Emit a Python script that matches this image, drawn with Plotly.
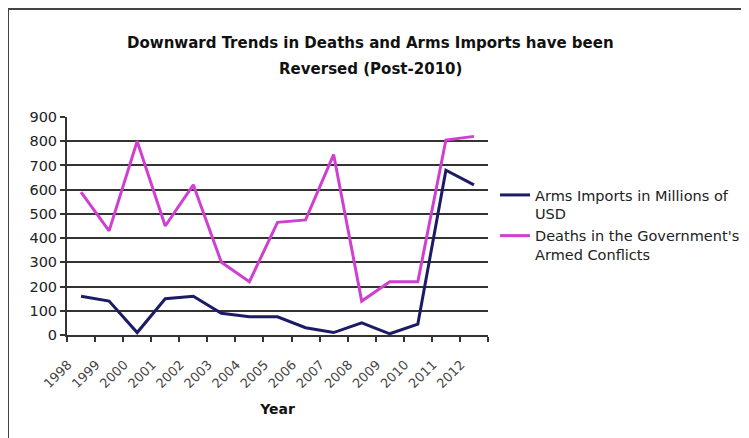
import plotly.graph_objects as go

years = ["1998", "1999", "2000", "2001", "2002", "2003", "2004", "2005",
         "2006", "2007", "2008", "2009", "2010", "2011", "2012"]
arms_imports = [160, 140, 10, 150, 160, 90, 75, 75, 30, 10, 50, 5, 45, 680, 620]
deaths = [590, 430, 800, 450, 620, 300, 220, 465, 475, 745, 140, 220, 220, 805, 820]
y_ticks = [0, 100, 200, 300, 400, 500, 600, 700, 800, 900]
grid_vals = [100, 200, 300, 400, 500, 600, 700, 800]
title_lines = ["Downward Trends in Deaths and Arms Imports have been",
               "Reversed (Post-2010)"]

FONT = "DejaVu Sans"
TFONT = "DejaVu Sans Condensed"

W, H = 749, 438
# the page body has an 8px margin; target pixel positions are offset by it
OFF = 8
L, R, T, B = 67 - OFF, 488 - OFF, 117 - OFF, 335 - OFF
PW, PH = R - L, B - T


def px_x(x):
    return (x - OFF - L) / PW


def px_y(y):
    return (B - (y - OFF)) / PH


fig = go.Figure()
fig.add_trace(go.Scatter(
    x=years, y=arms_imports, mode="lines",
    name="Arms Imports in Millions of<br>USD",
    line=dict(color="#1c1c66", width=3),
))
fig.add_trace(go.Scatter(
    x=years, y=deaths, mode="lines",
    name="Deaths in the Government's<br>Armed Conflicts",
    line=dict(color="#d040d0", width=3),
))

annotations = [
    dict(text="<b>%s</b>" % title_lines[0], xref="paper", yref="paper",
         x=px_x(370), y=px_y(42), xanchor="center", yanchor="middle",
         showarrow=False, font=dict(family=TFONT, size=16.7, color="#111111")),
    dict(text="<b>%s</b>" % title_lines[1], xref="paper", yref="paper",
         x=px_x(370), y=px_y(68), xanchor="center", yanchor="middle",
         showarrow=False, font=dict(family=TFONT, size=16.7, color="#111111")),
]

fig.update_layout(
    width=W, height=H,
    margin=dict(l=L, r=W - R, t=T, b=H - B),
    paper_bgcolor="white", plot_bgcolor="white",
    font=dict(family=FONT, color="#222222", size=13),
    xaxis=dict(
        type="category", range=[-0.5, 14.5], automargin=False,
        tickson="boundaries", ticks="outside", ticklen=5, tickwidth=1.5,
        tickcolor="#333333",
        showline=True, linecolor="#333333", linewidth=2,
        showgrid=False, tickangle=-45,
        ticklabelshift=-13, ticklabelstandoff=15,
        tickfont=dict(family=FONT, size=13, color="#444444"),
        title=dict(text="<b>Year</b>", font=dict(family=FONT, size=14, color="#111111"), standoff=14),
    ),
    yaxis=dict(
        range=[0, 900], tickvals=y_ticks, automargin=False,
        ticks="outside", ticklen=5, tickwidth=1.5, tickcolor="#333333",
        showline=True, linecolor="#333333", linewidth=2,
        showgrid=False, zeroline=False,
        tickfont=dict(family=FONT, size=14.5, color="#222222"),
        minor=dict(tickvals=grid_vals, showgrid=True, gridcolor="#333333", gridwidth=2, ticks=""),
    ),
    legend=dict(
        xref="container", yref="container",
        x=(495 - OFF) / W, xanchor="left", y=1 - (179 - OFF) / H, yanchor="top",
        valign="top", itemwidth=30, tracegroupgap=3,
        font=dict(family=FONT, size=14.5, color="#222222"),
        bgcolor="rgba(0,0,0,0)",
    ),
    annotations=annotations,
    shapes=[
        dict(type="line", xref="paper", yref="paper",
             x0=px_x(8), x1=px_x(770), y0=px_y(9), y1=px_y(9),
             line=dict(color="#444444", width=2)),
        dict(type="line", xref="paper", yref="paper",
             x0=px_x(8), x1=px_x(8), y0=px_y(9), y1=px_y(460),
             line=dict(color="#444444", width=2)),
    ],
)

fig.write_html("out.html")
